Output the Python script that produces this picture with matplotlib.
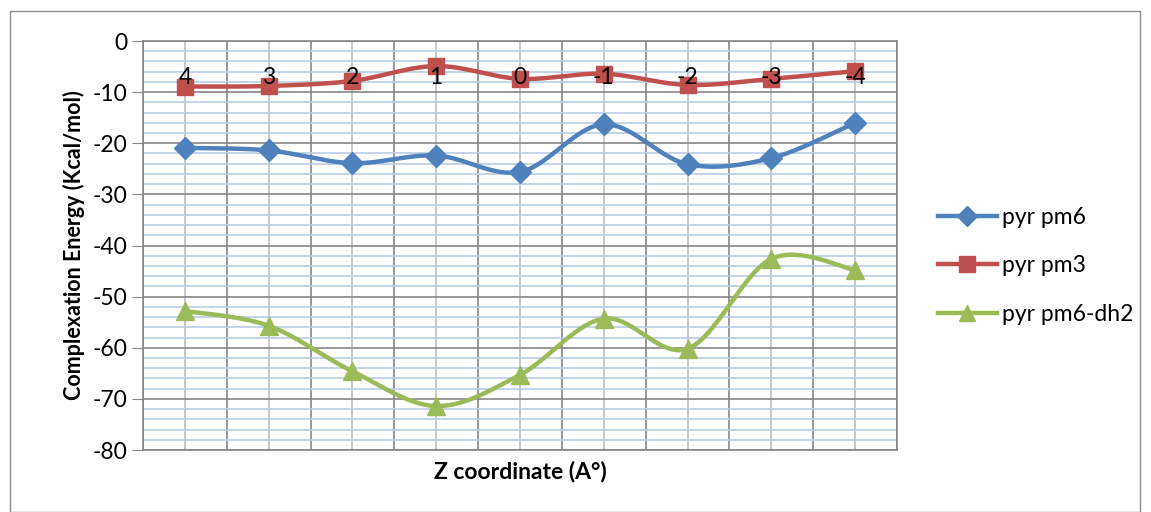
import numpy as np
import matplotlib.pyplot as plt
from matplotlib.ticker import MultipleLocator, FixedLocator, NullFormatter
from matplotlib.patches import Rectangle

plt.rcParams['font.family'] = ['Lato', 'DejaVu Sans']
plt.rcParams['axes.unicode_minus'] = False

z_labels = ['4', '3', '2', '1', '0', '-1', '-2', '-3', '-4']
pm6 = [-20.9, -21.4, -23.9, -22.4, -25.6, -16.3, -24.1, -22.9, -16.0]
pm3 = [-8.9, -8.8, -7.8, -4.9, -7.4, -6.4, -8.6, -7.4, -5.9]
pm6_dh2 = [-52.8, -55.7, -64.6, -71.4, -65.3, -54.3, -60.2, -42.6, -44.8]

series = [
    ('pyr pm6', pm6, '#4F81BD', 'D', 11),
    ('pyr pm3', pm3, '#C0504D', 's', 12),
    ('pyr pm6-dh2', pm6_dh2, '#9BBB59', '^', 13),
]


def smooth(x, y, n=30):
    # bezier smoothing through every point, like a spreadsheet "smoothed line"
    x = np.asarray(x, float)
    y = np.asarray(y, float)
    pts = np.column_stack([x, y])
    out = []
    for i in range(len(pts) - 1):
        p0 = pts[max(i - 1, 0)]
        p1 = pts[i]
        p2 = pts[i + 1]
        p3 = pts[min(i + 2, len(pts) - 1)]
        c1 = p1 + (p2 - p0) / 6
        c2 = p2 - (p3 - p1) / 6
        t = np.linspace(0, 1, n)[:, None]
        seg = ((1 - t) ** 3) * p1 + 3 * ((1 - t) ** 2) * t * c1 + 3 * (1 - t) * t ** 2 * c2 + t ** 3 * p2
        out.append(seg if i == 0 else seg[1:])
    out = np.vstack(out)
    return out[:, 0], out[:, 1]


fig = plt.figure(figsize=(11.51, 5.12), dpi=100)
fig.patches.append(Rectangle((10 / 1151, 0), 1130 / 1151, 501 / 512, transform=fig.transFigure,
                             fill=False, edgecolor='#8c8c8c', linewidth=1))
ax = fig.add_axes([143 / 1151, 1 - 450 / 512, 754 / 1151, 409 / 512])

x = np.arange(len(z_labels))
for name, vals, color, marker, ms in series:
    sx, sy = smooth(x, vals)
    ax.plot(sx, sy, color=color, lw=3.2, zorder=3, solid_capstyle='round')
    ax.plot(x, vals, linestyle='none', marker=marker, color=color, markersize=ms, zorder=4)
    ax.plot([], [], color=color, lw=3.2, marker=marker, markersize=ms - 1, label=name)

ax.set_xlim(-0.5, len(z_labels) - 0.5)
ax.set_ylim(-80, 0)
ax.yaxis.set_major_locator(MultipleLocator(10))
ax.yaxis.set_minor_locator(MultipleLocator(2))
ax.xaxis.set_major_locator(FixedLocator(np.arange(-0.5, len(z_labels), 1)))
ax.xaxis.set_minor_locator(FixedLocator(x))
ax.xaxis.set_major_formatter(NullFormatter())
ax.tick_params(axis='x', which='both', length=0)
ax.tick_params(axis='y', which='major', length=8, color='#868686', labelsize=16.5, pad=3)
ax.tick_params(axis='y', which='minor', length=0)

ax.grid(which='major', axis='both', color='#868686', lw=1.2, zorder=1)
ax.grid(which='minor', axis='y', color='#B9CDE5', lw=1.2, zorder=0)
ax.grid(which='minor', axis='x', color='#BFBFBF', lw=1.2, zorder=0)
ax.set_axisbelow(True)
for s in ax.spines.values():
    s.set_color('#868686')
    s.set_linewidth(1.2)

# category labels sit just under the zero line
for xi, lab in zip(x, z_labels):
    ax.annotate(lab, (xi, 0), xytext=(0, -26), textcoords='offset pixels',
                ha='center', va='top', fontsize=16.5, zorder=5)

ax.set_ylabel('Complexation Energy (Kcal/mol)', fontsize=15.5, fontweight='bold', labelpad=6)
fig.text(520 / 1151, 1 - 472 / 512, 'Z coordinate (A°)', ha='center', va='center',
         fontsize=16.5, fontweight='bold')

fig.legend(loc='center left', bbox_to_anchor=(917 / 1151, 1 - 266 / 512), frameon=False,
           fontsize=16.5, handlelength=2.6, labelspacing=1.2, handletextpad=0.2)

fig.savefig('out.png', dpi=100)
